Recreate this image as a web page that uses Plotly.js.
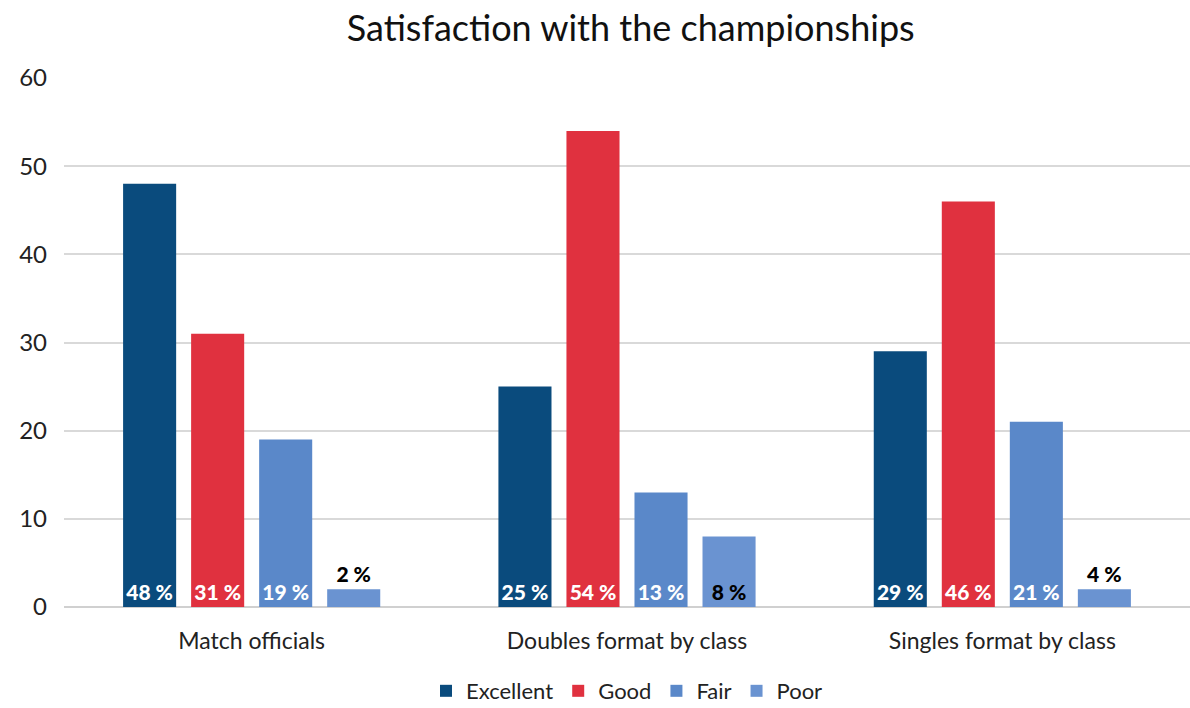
<!DOCTYPE html>
<html>
<head>
<meta charset="utf-8">
<script src="https://cdn.plot.ly/plotly-3.0.1.min.js"></script>
<style>html,body{margin:0;padding:0;background:#fff;}#chart{width:1190px;height:708px;}</style>
</head>
<body>
<div id="chart"></div>
<script>
const categories = ["Match officials", "Doubles format by class", "Singles format by class"];
const seriesNames = ["Excellent", "Good", "Fair", "Poor"];
const excellent = [48, 25, 29];
const good = [31, 54, 46];
const fair = [19, 13, 21];
const poor = [2, 8, 2];
const excellentLabels = ["48 %", "25 %", "29 %"];
const goodLabels = ["31 %", "54 %", "46 %"];
const fairLabels = ["19 %", "13 %", "21 %"];
const poorLabels = ["2 %", "8 %", "4 %"];
const colors = ["#0a4b7d", "#e0313f", "#5a88c9", "#6a93d1"];

const values = [excellent, good, fair, poor];
const labels = [excellentLabels, goodLabels, fairLabels, poorLabels];
const font = "Lato, 'Open Sans', sans-serif";

const traces = seriesNames.map((name, i) => {
  const isPoor = i === 3;
  return {
    type: "bar",
    name: name,
    x: categories,
    y: values[i],
    text: labels[i],
    texttemplate: "%{text}",
    textposition: isPoor ? values[i].map(v => v >= 5 ? "inside" : "outside") : "inside",
    insidetextanchor: "start",
    textangle: 0,
    cliponaxis: false,
    textfont: {family: font, size: 21, color: isPoor ? "#000000" : "#ffffff", weight: 900},
    insidetextfont: {family: font, size: 21, color: isPoor ? "#000000" : "#ffffff", weight: 900},
    outsidetextfont: {family: font, size: 21, color: "#000000", weight: 900},
    marker: {color: colors[i]},
    hoverinfo: "none"
  };
});

const layout = {
  width: 1190,
  height: 708,
  margin: {l: 64, r: 0, t: 78, b: 101},
  paper_bgcolor: "#ffffff",
  plot_bgcolor: "#ffffff",
  title: {text: "Satisfaction with the championships", font: {family: font, size: 36, color: "#111111"}, x: 0.53, xanchor: "center", y: 0.96, yanchor: "middle"},
  barmode: "group",
  bargap: 0.275,
  bargroupgap: 0.22,
  uniformtext: {mode: false},
  xaxis: {
    type: "category",
    tickfont: {family: font, size: 23, color: "#222222"},
    showgrid: false,
    showline: false,
    ticks: "",
    ticklabelstandoff: 18,
    automargin: false
  },
  yaxis: {
    range: [0, 60],
    dtick: 10,
    tick0: 0,
    showgrid: true,
    gridcolor: "#d9d9d9",
    gridwidth: 2,
    zeroline: true,
    zerolinecolor: "#d0d0d0",
    zerolinewidth: 2,
    tickfont: {family: font, size: 24, color: "#222222"},
    ticks: "",
    ticklabelstandoff: 16,
    automargin: false,
    fixedrange: true
  },
  legend: {
    orientation: "h",
    x: 0.5,
    xanchor: "center",
    yref: "container",
    y: 0.024,
    yanchor: "middle",
    font: {family: font, size: 22, color: "#222222"},
    itemwidth: 30,
    tracegroupgap: 0
  },
  showlegend: true
};

Plotly.newPlot("chart", traces, layout, {displayModeBar: false, staticPlot: true});
</script>
</body>
</html>
